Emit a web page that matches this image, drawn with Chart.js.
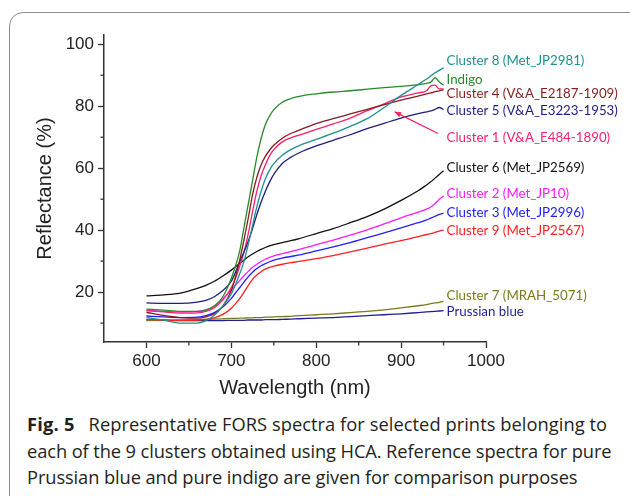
<!DOCTYPE html>
<html>
<head>
<meta charset="utf-8">
<script src="https://cdn.jsdelivr.net/npm/chart.js@4.4.0/dist/chart.umd.min.js"></script>
<style>
body { margin: 0; background: #fff; width: 630px; height: 496px; overflow: hidden; position: relative; }
#frame { position: absolute; left: 9px; top: 12px; width: 650px; height: 510px; border: 1.5px solid #8c8c8c; border-radius: 14px; box-sizing: border-box; }
#wrap { position: absolute; left: 0; top: 0; width: 630px; height: 400px; }
#caption { position: absolute; left: 27px; top: 411px; font-family: 'Open Sans', sans-serif; font-size: 18.3px; line-height: 26.5px; color: #231f20; white-space: nowrap; letter-spacing: -0.1px; }
#caption b { font-weight: 700; margin-right: 14px; letter-spacing: 0.2px; }
#caption .first { letter-spacing: 0.05px; }
</style>
</head>
<body>
<div id="frame"></div>
<div id="wrap"><canvas id="chart" width="630" height="400"></canvas></div>
<div id="caption">
  <div class="first"><b>Fig. 5</b>Representative FORS spectra for selected prints belonging to</div>
  <div>each of the 9 clusters obtained using HCA. Reference spectra for pure</div>
  <div>Prussian blue and pure indigo are given for comparison purposes</div>
</div>
<script>
// longueurs d'onde (nm)
const wavelengths = [600, 620, 640, 660, 670, 680, 690, 700, 705, 710, 715, 720, 725, 730, 735, 740, 745, 750, 760, 770, 780, 800, 820, 840, 860, 880, 900, 920, 930, 935, 940, 945, 950];

// réflectance (%)
const cluster8 = [11.8, 11, 10, 10, 10.8, 12.5, 15.5, 19.5, 22.5, 26, 30, 35.5, 41.5, 47.5, 52.5, 56.5, 59.4, 61.5, 64.2, 66, 67.3, 69.3, 71.3, 73.5, 76, 79.6, 83.5, 87, 88.8, 89.8, 90.8, 91.6, 92.4];
const indigo = [14.5, 14.2, 13.8, 13.8, 14.2, 15.5, 18.5, 24.5, 28.5, 33.5, 41, 48.5, 56, 63.5, 69.5, 74, 76.8, 78.9, 81.3, 82.5, 83.2, 84, 84.6, 85, 85.5, 86, 86.4, 87, 87.4, 87.8, 89.2, 87.8, 86.8];
const cluster4 = [13.5, 12.5, 11.8, 11.6, 12, 13, 15.5, 20.5, 25, 30.5, 37, 44, 51.5, 57, 61, 63.8, 65.8, 67.4, 69.7, 71.2, 72.3, 74.4, 76, 77.5, 79, 80.5, 82, 83.3, 84, 84.3, 84.7, 85, 85.3];
const cluster5 = [16.5, 16.4, 16.4, 16.8, 17.3, 18.5, 20.5, 23.5, 26.5, 30, 33, 36.5, 40.5, 45, 49, 52.5, 55.5, 58, 61.5, 63.5, 65, 67.2, 69, 70.8, 72.8, 74.5, 76.2, 77.6, 78.2, 78.5, 79, 79.6, 78.9];
const cluster1 = [14, 13.6, 13.2, 13.3, 13.8, 15, 17.5, 21.5, 24.5, 28.5, 33, 39, 46, 52.5, 57.5, 61, 64, 66, 68.5, 69.8, 70.7, 72.5, 74.3, 76.2, 78.6, 80.8, 83, 84.3, 85, 86.6, 86.8, 85.6, 85.6];
const cluster6 = [18.8, 19.1, 19.7, 21.2, 22.2, 23.5, 25.2, 27.1, 28.2, 29.3, 30.4, 31.4, 32.3, 33.1, 33.8, 34.4, 34.9, 35.3, 36, 36.6, 37.3, 38.9, 40.5, 42.4, 44.4, 46.8, 49.6, 52.7, 54.6, 55.6, 56.8, 58, 59.2];
const cluster2 = [14.2, 13.8, 13.6, 13.8, 14.3, 15.5, 17.8, 20.8, 22.3, 23.8, 25.3, 26.7, 28, 29, 29.9, 30.6, 31.2, 31.7, 32.4, 33.1, 33.8, 35.3, 36.8, 38.4, 40.1, 42, 44, 45.8, 46.8, 47.5, 48.6, 50, 51];
const cluster3 = [12.3, 12, 11.8, 11.9, 12.4, 13.4, 15.2, 18, 19.8, 21.5, 23.3, 25, 26.4, 27.6, 28.5, 29.2, 29.8, 30.3, 31, 31.5, 32, 33.3, 34.6, 36, 37.6, 39.1, 40.7, 42.4, 43.3, 43.9, 44.5, 45.1, 45.5];
const cluster9 = [11.2, 11, 10.9, 11, 11.2, 11.7, 12.8, 14.8, 16.3, 18, 20, 22.2, 24.1, 25.5, 26.6, 27.4, 28, 28.4, 29, 29.5, 29.9, 30.8, 31.8, 33, 34.2, 35.5, 36.6, 37.9, 38.6, 38.9, 39.3, 39.7, 40];
const cluster7 = [10.8, 10.9, 11, 11.1, 11.2, 11.3, 11.4, 11.5, 11.5, 11.6, 11.6, 11.7, 11.7, 11.8, 11.8, 11.9, 11.9, 12, 12.1, 12.2, 12.4, 12.7, 13, 13.4, 13.8, 14.3, 14.9, 15.6, 16, 16.3, 16.5, 16.7, 17];
const prussianBlue = [11, 10.9, 10.8, 10.8, 10.8, 10.8, 10.8, 10.9, 10.9, 10.9, 10.9, 11, 11, 11, 11, 11.1, 11.1, 11.1, 11.2, 11.3, 11.4, 11.6, 11.8, 12.1, 12.4, 12.7, 13, 13.4, 13.6, 13.7, 13.8, 13.9, 14];

const seriesNames = ['Cluster 8 (Met_JP2981)', 'Indigo', 'Cluster 4 (V&A_E2187-1909)', 'Cluster 5 (V&A_E3223-1953)',
    'Cluster 1 (V&A_E484-1890)', 'Cluster 6 (Met_JP2569)', 'Cluster 2 (Met_JP10)', 'Cluster 3 (Met_JP2996)',
    'Cluster 9 (Met_JP2567)', 'Cluster 7 (MRAH_5071)', 'Prussian blue'];
const seriesValues = [cluster8, indigo, cluster4, cluster5, cluster1, cluster6, cluster2, cluster3, cluster9, cluster7, prussianBlue];

const xTicks = [600, 700, 800, 900, 1000];
const xMinorTicks = [650, 750, 850, 950];
const yTicks = [20, 40, 60, 80, 100];
const yMinorTicks = [10, 30, 50, 70, 90];

const colors = ['#1f8f8f', '#2a8a2a', '#851e1e', '#1e1e82', '#ff1f6a', '#111111', '#ff1aff', '#2020ff', '#ff2020', '#7a7a1e', '#1e1e96'];

// position verticale des étiquettes (en %)
const labelY = [94.6, 88.6, 84.1, 78.4, 70, 60.2, 51.8, 45.6, 39.8, 19, 13.6];

// étiquettes à droite + flèche du cluster 1 + petites graduations
const annotations = {
    id: 'annotations',
    afterDatasetsDraw(chart) {
        const ctx = chart.ctx;
        const xs = chart.scales.x, ys = chart.scales.y;
        ctx.save();
        ctx.font = '13.3px Lato';
        ctx.textBaseline = 'middle';
        ctx.textAlign = 'left';
        seriesNames.forEach((name, i) => {
            ctx.fillStyle = colors[i];
            ctx.fillText(name, xs.getPixelForValue(950) + 3, ys.getPixelForValue(labelY[i]));
        });

        // flèche vers la courbe du cluster 1
        const x0 = xs.getPixelForValue(943.5), y0 = ys.getPixelForValue(71.2);
        const x1 = xs.getPixelForValue(892.4), y1 = ys.getPixelForValue(78.2);
        ctx.strokeStyle = colors[4];
        ctx.fillStyle = colors[4];
        ctx.lineWidth = 1.3;
        ctx.beginPath();
        ctx.moveTo(x0, y0);
        ctx.lineTo(x1, y1);
        ctx.stroke();
        const a = Math.atan2(y1 - y0, x1 - x0);
        ctx.beginPath();
        ctx.moveTo(x1, y1);
        ctx.lineTo(x1 - 7 * Math.cos(a - 0.4), y1 - 7 * Math.sin(a - 0.4));
        ctx.lineTo(x1 - 7 * Math.cos(a + 0.4), y1 - 7 * Math.sin(a + 0.4));
        ctx.closePath();
        ctx.fill();

        // graduations mineures
        ctx.strokeStyle = '#333';
        ctx.lineWidth = 1.3;
        yMinorTicks.forEach(v => {
            const py = ys.getPixelForValue(v);
            ctx.beginPath();
            ctx.moveTo(chart.chartArea.left - 3.5, py);
            ctx.lineTo(chart.chartArea.left, py);
            ctx.stroke();
        });
        xMinorTicks.forEach(v => {
            const px = xs.getPixelForValue(v);
            ctx.beginPath();
            ctx.moveTo(px, chart.chartArea.bottom);
            ctx.lineTo(px, chart.chartArea.bottom + 3.5);
            ctx.stroke();
        });
        ctx.restore();
    }
};

const axisFont = { family: "'Liberation Sans', Arial, sans-serif", size: 17 };
const titleFont = { family: "'Liberation Sans', Arial, sans-serif", size: 20 };

new Chart(document.getElementById('chart'), {
    type: 'line',
    data: {
        datasets: seriesValues.map((vals, i) => ({
            label: seriesNames[i],
            data: wavelengths.map((w, j) => ({ x: w, y: vals[j] })),
            borderColor: colors[i],
            borderWidth: 1.3,
            pointRadius: 0,
            cubicInterpolationMode: 'monotone',
            fill: false
        }))
    },
    options: {
        responsive: false,
        animation: false,
        layout: { padding: { top: 35, right: 144, left: 0, bottom: 0 } },
        plugins: { legend: { display: false }, tooltip: { enabled: false } },
        scales: {
            x: {
                type: 'linear',
                min: 550,
                max: 1000,
                afterBuildTicks: s => { s.ticks = xTicks.map(v => ({ value: v })); },
                afterFit: s => { s.height = 58; },
                grid: { drawOnChartArea: false, tickLength: 6, tickColor: '#333', tickWidth: 1.3 },
                border: { color: '#333', width: 1.5 },
                ticks: { font: axisFont, color: '#222', padding: 3, maxRotation: 0, callback: v => String(v) },
                title: { display: true, text: 'Wavelength (nm)', font: titleFont, color: '#222', padding: { top: 0, bottom: 0 } }
            },
            y: {
                min: 3.9,
                max: 103,
                afterBuildTicks: s => { s.ticks = yTicks.map(v => ({ value: v })); },
                afterFit: s => { s.width = 104; },
                grid: { drawOnChartArea: false, tickLength: 6, tickColor: '#333', tickWidth: 1.3 },
                border: { color: '#333', width: 1.5 },
                ticks: { font: axisFont, color: '#222', padding: 4, callback: v => String(v) },
                title: { display: true, text: 'Reflectance (%)', font: titleFont, color: '#222', padding: { top: 33, bottom: 0 } }
            }
        }
    },
    plugins: [annotations]
});
</script>
</body>
</html>
